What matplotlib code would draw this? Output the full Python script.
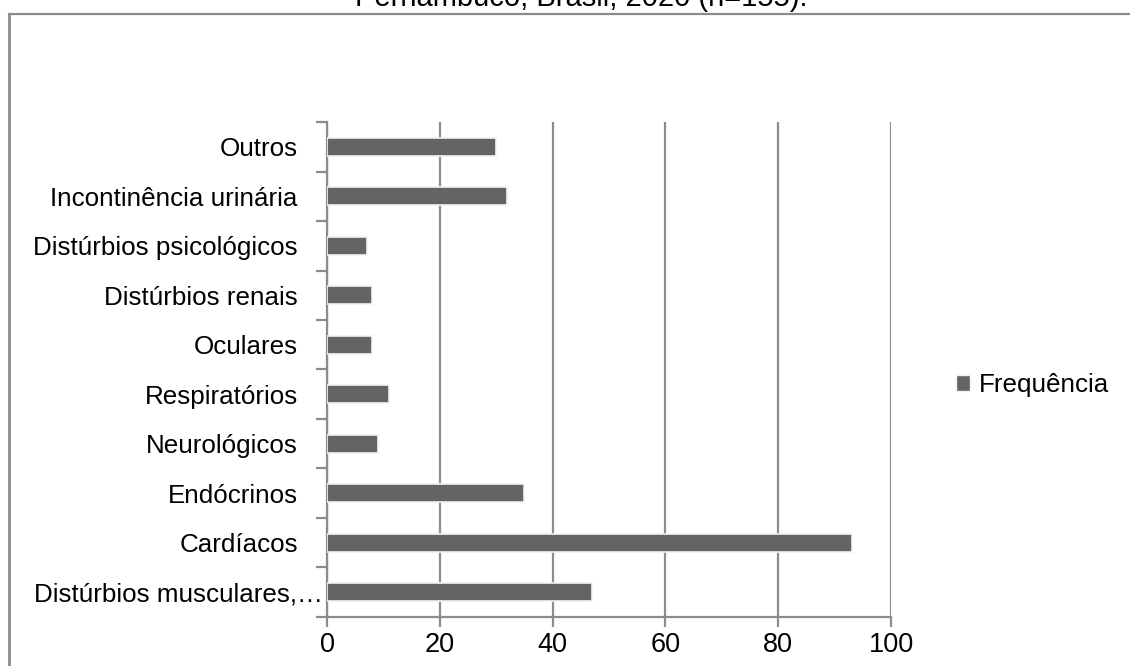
import matplotlib.pyplot as plt
import matplotlib.transforms as mtransforms
from matplotlib.lines import Line2D
from matplotlib.patches import Patch

plt.rcParams['font.family'] = ['Liberation Sans', 'DejaVu Sans']

# Comorbidades (frequência absoluta)
categorias = ["Distúrbios musculares,…", "Cardíacos", "Endócrinos", "Neurológicos",
              "Respiratórios", "Oculares", "Distúrbios renais",
              "Distúrbios psicológicos", "Incontinência urinária", "Outros"]
frequencia = [47, 93, 35, 9, 11, 8, 8, 7, 32, 30]
xticks = [0, 20, 40, 60, 80, 100]

cinza_barra = "#646464"
cinza_linha = "#8c8c8c"

fig = plt.figure(figsize=(11.30, 6.66), dpi=100)
ax = fig.add_axes([0.2894, 0.0736, 0.4991, 0.7432])

pos = list(range(len(categorias)))
ax.barh(pos, frequencia, height=0.37, color=cinza_barra,
        edgecolor="#f2f2f2", linewidth=1.2, zorder=3, label="Frequência")

ax.set_xlim(0, 100)
ax.set_ylim(-0.5, len(categorias) - 0.5)
ax.set_xticks(xticks)
ax.set_xticklabels([str(v) for v in xticks], fontsize=19.5)
ax.grid(axis="x", color=cinza_linha, linewidth=1.6, zorder=0)
ax.tick_params(axis="x", length=7, width=1.6, color=cinza_linha, pad=4)

# ticks nas divisões das categorias, rótulos no centro
ax.set_yticks([p - 0.5 for p in pos] + [len(categorias) - 0.5])
ax.set_yticklabels([])
ax.tick_params(axis="y", which="major", length=8, width=1.6, color=cinza_linha)
ax.set_yticks(pos, minor=True)
ax.set_yticklabels(categorias, minor=True, fontsize=18.7)
ax.tick_params(axis="y", which="minor", length=0, pad=21)
lab0 = ax.get_yticklabels(minor=True)[0]
lab0.set_transform(lab0.get_transform() +
                   mtransforms.ScaledTranslation(0.25, 0, fig.dpi_scale_trans))

for s in ["top", "right"]:
    ax.spines[s].set_visible(False)
for s in ["left", "bottom"]:
    ax.spines[s].set_color(cinza_linha)
    ax.spines[s].set_linewidth(1.6)

handle = Patch(facecolor=cinza_barra, edgecolor="#f2f2f2")
fig.legend([handle], ["Frequência"], loc="center left",
           bbox_to_anchor=(0.825, 0.422), frameon=False, fontsize=18.7,
           handlelength=0.55, handleheight=0.55, handletextpad=0.35)

# moldura da área do gráfico
fig.add_artist(Line2D([0.008, 1.0], [0.979, 0.979], color=cinza_linha, linewidth=1.6))
fig.add_artist(Line2D([0.008, 0.008], [0.0, 0.979], color=cinza_linha, linewidth=2.0))

fig.text(0.514, 0.991, "Pernambuco, Brasil, 2020 (n=155).", ha="center",
         va="baseline", fontsize=21)

fig.savefig("out.png", dpi=100)
